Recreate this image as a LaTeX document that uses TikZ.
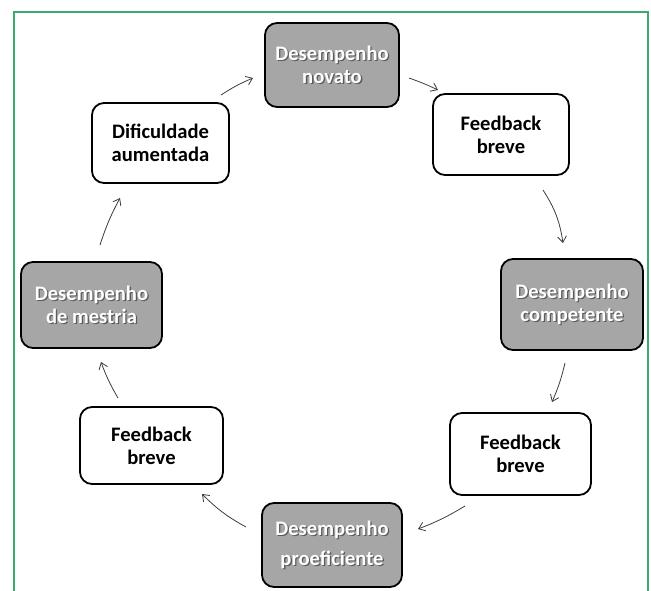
\documentclass[tikz,border=0pt]{standalone}
\usepackage{fontspec}
\setmainfont{Carlito}
\usetikzlibrary{arrows.meta}
\definecolor{frame}{RGB}{60,170,110}
\definecolor{boxgray}{RGB}{166,166,166}
\definecolor{arrowc}{RGB}{60,60,60}
\tikzset{
  x=1pt,y=-1pt,
  box/.style={draw=black,line width=1.8pt,rounded corners=12pt,align=center,
    font=\fontsize{20.6}{23}\selectfont\bfseries,inner sep=0pt},
  whitebox/.style={box,fill=white,text=black},
  graybox/.style={box,fill=boxgray,text=white},
  shadowtext/.style={align=center,font=\fontsize{20.6}{23}\selectfont\bfseries,
    text=black,text opacity=0.45,inner sep=0pt},
  flow/.style={draw=arrowc,line width=0.8pt,-{Straight Barb[length=6pt,width=9pt]}},
}
\begin{document}
\begin{tikzpicture}
\useasboundingbox (0,0) rectangle (651,591);
% frame
\coordinate (fbl) at (14,591);
\coordinate (ftl) at (14,12);
\coordinate (ftr) at (648,12);
\coordinate (fbr) at (648,591);
\draw[frame,line width=1.6pt] (fbl) -- (ftl) -- (ftr) -- (fbr);

% boxes
\node[graybox,minimum width=134pt,minimum height=84pt] (nov) at (332,65) {};
\node[whitebox,minimum width=136pt,minimum height=81pt] (fb1) at (501,134.5) {Feedback\\breve};
\node[graybox,minimum width=142pt,minimum height=91pt] (com) at (572,304.5) {};
\node[whitebox,minimum width=141pt,minimum height=82pt] (fb2) at (520.5,454) {Feedback\\breve};
\node[graybox,minimum width=140pt,minimum height=84pt] (pro) at (332,545) {};
\node[whitebox,minimum width=143pt,minimum height=77pt] (fb3) at (151.5,445.5) {Feedback\\breve};
\node[graybox,minimum width=141pt,minimum height=86pt] (mes) at (91.5,305) {};
\node[whitebox,minimum width=137pt,minimum height=80pt] (dif) at (160.5,143) {Dificuldade\\aumentada};

% gray box texts with shadow
\node[shadowtext] (novs) at ([shift={(1.3,1.3)}]nov.center) {Desempenho\\novato};
\node[shadowtext,text=white,text opacity=1] (novt) at (nov.center) {Desempenho\\novato};
\node[shadowtext] (coms) at ([shift={(1.3,1.3)}]com.center) {Desempenho\\competente};
\node[shadowtext,text=white,text opacity=1] (comt) at (com.center) {Desempenho\\competente};
\node[shadowtext] (pros) at ([shift={(1.3,1.3)}]pro.center) {Desempenho\\[7pt]proeficiente};
\node[shadowtext,text=white,text opacity=1] (prot) at (pro.center) {Desempenho\\[7pt]proeficiente};
\node[shadowtext] (mess) at ([shift={(1.3,1.3)}]mes.center) {Desempenho\\de mestria};
\node[shadowtext,text=white,text opacity=1] (mest) at (mes.center) {Desempenho\\de mestria};

% arrow end points
\coordinate (a1s) at (221,95);  \coordinate (a1e) at (253,78);
\coordinate (a2s) at (409,78);  \coordinate (a2e) at (438,90);
\coordinate (a3s) at (543,190); \coordinate (a3e) at (563,243);
\coordinate (a4s) at (565,363); \coordinate (a4e) at (552,402);
\coordinate (a5s) at (465,506); \coordinate (a5e) at (418,529);
\coordinate (a6s) at (246,527); \coordinate (a6e) at (202,494);
\coordinate (a7s) at (118,398); \coordinate (a7e) at (101,362);
\coordinate (a8s) at (100,245); \coordinate (a8e) at (120,198);

\draw[flow] (a1s) to[bend left=5] (a1e);
\draw[flow] (a2s) to[bend left=3] (a2e);
\draw[flow] (a3s) to[bend left=12] (a3e);
\draw[flow] (a4s) to[bend left=5] (a4e);
\draw[flow] (a5s) to[bend left=5] (a5e);
\draw[flow] (a6s) to[bend right=-8] (a6e);
\draw[flow] (a7s) to[bend left=5] (a7e);
\draw[flow] (a8s) to[bend left=5] (a8e);
\end{tikzpicture}
\end{document}
